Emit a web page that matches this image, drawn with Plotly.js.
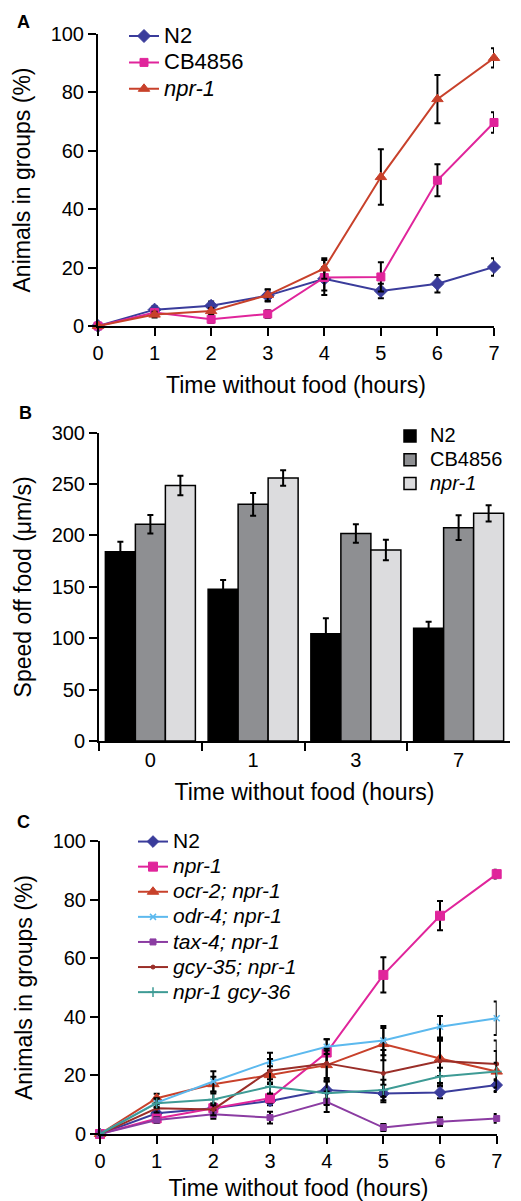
<!DOCTYPE html>
<html>
<head>
<meta charset="utf-8">
<script src="https://cdn.plot.ly/plotly-3.0.1.min.js"></script>
<style>html,body{margin:0;padding:0;background:#fff;}#chart{width:521px;height:1201px;}</style>
</head>
<body>
<div id="chart"></div>
<script>
// ---------- DATA ----------
const hours = [0, 1, 2, 3, 4, 5, 6, 7];

// Panel A: Animals in groups (%)
const aN2 = [0, 5.6, 6.9, 10.4, 16.2, 12.0, 14.5, 20.2];
const aN2Err = [0, 1.2, 1.5, 2, 4, 2.5, 3, 3];
const aCB = [0, 4.6, 2.3, 4.1, 16.6, 16.8, 49.9, 69.7];
const aCBErr = [0, 1, 1.2, 1.3, 6, 5, 5.5, 3.5];
const aNpr = [0, 3.9, 5.1, 10.6, 19.7, 51.0, 77.7, 91.8];
const aNprErr = [0, 1, 1, 2, 3.5, 9.5, 8.3, 3.3];

// Panel B: Speed off food (um/s)
const bCats = ['0', '1', '3', '7'];
const bN2 = [184.2, 147.6, 104.4, 109.6];
const bN2Err = [9.7, 9, 15, 6.5];
const bCB = [210.8, 230.3, 202.0, 207.6];
const bCBErr = [9, 11, 9, 12];
const bNpr = [248.7, 255.9, 185.8, 221.5];
const bNprErr = [9.5, 7.5, 10, 7.8];

// Panel C: Animals in groups (%)
const cN2 = [0, 7.1, 8.8, 11.3, 15.0, 13.8, 14.2, 16.7];
const cN2Err = [0, 1, 1.5, 1.5, 3, 3, 2, 2];
const cNpr = [0, 5.3, 8.8, 12.2, 27.8, 54.3, 74.5, 88.7];
const cNprErr = [0, 1, 1.5, 1.5, 4.5, 6, 5, 1.5];
const cOcr2 = [0, 12.2, 17.0, 20.1, 23.5, 30.7, 25.8, 21.3];
const cOcr2Err = [0, 1.5, 2.5, 3, 5, 5.5, 6, 7];
const cOdr4 = [0, 10.7, 17.9, 24.7, 29.8, 31.9, 36.6, 39.5];
const cOdr4Err = [0, 1.5, 3.5, 3, 2.5, 5, 3.7, 5.7];
const cTax4 = [0, 4.8, 6.7, 5.6, 11.0, 2.2, 4.2, 5.3];
const cTax4Err = [0, 1, 1.5, 2, 3.5, 1.2, 1.5, 1.5];
const cGcy35 = [0, 8.8, 8.4, 21.6, 24.1, 20.7, 24.9, 23.9];
const cGcy35Err = [0, 1.5, 2, 4, 5, 8, 7.5, 8];
const cGcy36 = [0, 10.5, 11.8, 16.2, 13.9, 15.0, 19.6, 21.3];
const cGcy36Err = [0, 1.5, 2, 2.5, 4, 3.5, 3, 3];

const names = {
  n2: 'N2', cb: 'CB4856', npr: '<i>npr-1</i>',
  ocr2: '<i>ocr-2; npr-1</i>', odr4: '<i>odr-4; npr-1</i>', tax4: '<i>tax-4; npr-1</i>',
  gcy35: '<i>gcy-35; npr-1</i>', gcy36: '<i>npr-1 gcy-36</i>'
};

// ---------- LAYOUT HELPERS ----------
const W = 521, H = 1201;
const px = v => v / W;
const py = v => 1 - v / H;
const FONT = 'Liberation Sans, Arial, Helvetica, sans-serif';
const big = (t, s) => '<span style="font-size:' + s + 'px">' + t + '</span>';

const colors = {
  n2: '#3a3c9b', magenta: '#e0259b', red: '#c8412b', lightblue: '#5cb9ee',
  purple: '#8b3ca2', darkred: '#9a2e28', teal: '#3e9b95'
};

function errY(arr) {
  return {type: 'data', array: arr, visible: true, color: '#000', thickness: 2, width: 3};
}
function lineTrace(x, y, err, name, color, symbol, size, xa, ya, legend, extra) {
  const t = {
    type: 'scatter', mode: 'lines+markers', x: x, y: y, name: name,
    xaxis: xa, yaxis: ya, legend: legend, cliponaxis: false,
    line: {color: color, width: 2},
    marker: {color: color, symbol: symbol, size: size, line: {color: color, width: 1}},
    error_y: errY(err)
  };
  return Object.assign(t, extra || {});
}

const data = [
  // Panel A
  lineTrace(hours, aN2, aN2Err, big(names.n2, 22), colors.n2, 'diamond', 10, 'x', 'y', 'legend'),
  lineTrace(hours, aCB, aCBErr, big(names.cb, 22), colors.magenta, 'square', 8, 'x', 'y', 'legend'),
  lineTrace(hours, aNpr, aNprErr, big(names.npr, 22), colors.red, 'triangle-up', 10, 'x', 'y', 'legend'),
  // Panel B
  {type: 'bar', x: bCats, y: bN2, name: big(names.n2, 20), xaxis: 'x2', yaxis: 'y2', legend: 'legend2',
   marker: {color: '#000000', line: {color: '#000', width: 1.5}}, error_y: errY(bN2Err)},
  {type: 'bar', x: bCats, y: bCB, name: big(names.cb, 20), xaxis: 'x2', yaxis: 'y2', legend: 'legend2',
   marker: {color: '#8e8f92', line: {color: '#000', width: 1.5}}, error_y: errY(bCBErr)},
  {type: 'bar', x: bCats, y: bNpr, name: big(names.npr, 20), xaxis: 'x2', yaxis: 'y2', legend: 'legend2',
   marker: {color: '#dcdcde', line: {color: '#000', width: 1.5}}, error_y: errY(bNprErr)},
  // Panel C
  lineTrace(hours, cN2, cN2Err, big(names.n2, 21), colors.n2, 'diamond', 9, 'x3', 'y3', 'legend3'),
  lineTrace(hours, cNpr, cNprErr, big(names.npr, 21), colors.magenta, 'square', 9, 'x3', 'y3', 'legend3'),
  lineTrace(hours, cOcr2, cOcr2Err, big(names.ocr2, 21), colors.red, 'triangle-up', 10, 'x3', 'y3', 'legend3'),
  lineTrace(hours, cOdr4, cOdr4Err, big(names.odr4, 21), colors.lightblue, 'x-thin-open', 6, 'x3', 'y3', 'legend3',
    {marker: {color: colors.lightblue, symbol: 'x-thin-open', size: 6, line: {color: colors.lightblue, width: 1.5}}}),
  lineTrace(hours, cTax4, cTax4Err, big(names.tax4, 21), colors.purple, 'square', 6, 'x3', 'y3', 'legend3'),
  lineTrace(hours, cGcy35, cGcy35Err, big(names.gcy35, 21), colors.darkred, 'circle', 4, 'x3', 'y3', 'legend3'),
  lineTrace(hours, cGcy36, cGcy36Err, big(names.gcy36, 21), colors.teal, 'cross-thin-open', 7, 'x3', 'y3', 'legend3',
    {marker: {color: colors.teal, symbol: 'cross-thin-open', size: 7, line: {color: colors.teal, width: 1.5}}})
];

const axBase = {
  showgrid: false, zeroline: false, showline: true, linecolor: '#000', linewidth: 2,
  ticks: 'outside', ticklen: 8, tickwidth: 2, tickcolor: '#000',
  tickfont: {family: FONT, size: 20, color: '#000'}, fixedrange: true
};
const xTitle = {text: 'Time without food (hours)', font: {family: FONT, size: 23, color: '#000'}, standoff: 14};

function legendAt(left, top, size) {
  return {x: px(left), y: py(top), xanchor: 'left', yanchor: 'top', bgcolor: 'rgba(0,0,0,0)',
          borderwidth: 0, font: {family: FONT, size: size, color: '#000'}, tracegroupgap: 0};
}

const layout = {
  width: W, height: H,
  margin: {l: 0, r: 0, t: 0, b: 0},
  paper_bgcolor: '#fff', plot_bgcolor: '#fff',
  font: {family: FONT, color: '#000'},
  showlegend: true,
  barmode: 'group', bargap: 0.124, bargroupgap: 0,
  xaxis: Object.assign({}, axBase, {domain: [px(98), px(494)], range: [0, 7], dtick: 1, anchor: 'y', title: xTitle}),
  yaxis: Object.assign({}, axBase, {domain: [py(326), py(34)], range: [0, 100], dtick: 20, anchor: 'x',
    title: {text: 'Animals in groups (%)', font: {family: FONT, size: 23, color: '#000'}, standoff: 14}}),
  xaxis2: Object.assign({}, axBase, {domain: [px(99), px(510)], type: 'category', range: [-0.5, 3.5],
    tickson: 'boundaries', anchor: 'y2', title: xTitle}),
  yaxis2: Object.assign({}, axBase, {domain: [py(741), py(432.7)], range: [0, 300], dtick: 50, anchor: 'x2',
    title: {text: 'Speed off food (μm/s)', font: {family: FONT, size: 23, color: '#000'}, standoff: 14}}),
  xaxis3: Object.assign({}, axBase, {domain: [px(100), px(496.7)], range: [0, 7], dtick: 1, anchor: 'y3', title: xTitle}),
  yaxis3: Object.assign({}, axBase, {domain: [py(1134), py(841)], range: [0, 100], dtick: 20, anchor: 'x3',
    title: {text: 'Animals in groups (%)', font: {family: FONT, size: 23, color: '#000'}, standoff: 14}}),
  legend: legendAt(124, 17.8, 18),
  legend2: legendAt(390, 419.1, 16),
  legend3: legendAt(133, 824, 17),
  annotations: [
    {text: '<b>A</b>', x: px(23), y: py(22), xref: 'paper', yref: 'paper', showarrow: false,
     xanchor: 'center', yanchor: 'middle', font: {family: FONT, size: 18, color: '#000'}},
    {text: '<b>B</b>', x: px(25), y: py(413), xref: 'paper', yref: 'paper', showarrow: false,
     xanchor: 'center', yanchor: 'middle', font: {family: FONT, size: 18, color: '#000'}},
    {text: '<b>C</b>', x: px(23), y: py(822), xref: 'paper', yref: 'paper', showarrow: false,
     xanchor: 'center', yanchor: 'middle', font: {family: FONT, size: 18, color: '#000'}}
  ]
};

Plotly.newPlot('chart', data, layout, {displayModeBar: false, staticPlot: true});
</script>
</body>
</html>
